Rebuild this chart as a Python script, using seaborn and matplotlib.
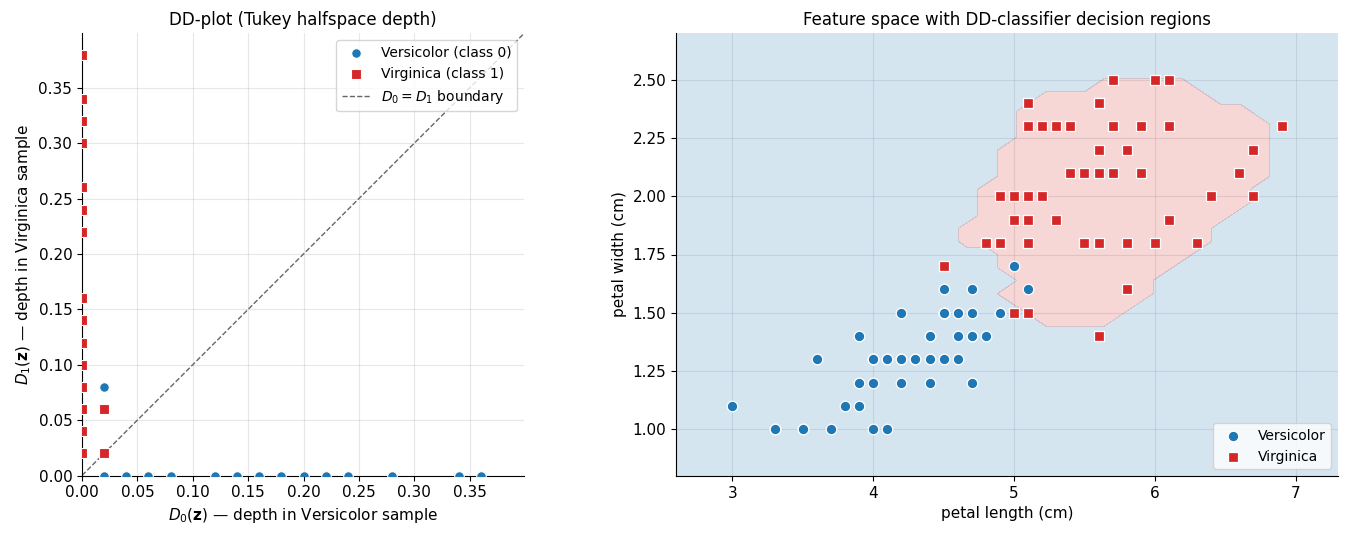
import numpy as np
import pandas as pd
import matplotlib
matplotlib.use("Agg")
import matplotlib.pyplot as plt
import seaborn as sns

# ---------------- data ----------------
versicolor_petal_length = [4.7, 4.5, 4.9, 4.0, 4.6, 4.5, 4.7, 3.3, 4.6, 3.9, 3.5, 4.2, 4.0, 4.7, 3.6, 4.4, 4.5,
                           4.1, 4.5, 3.9, 4.8, 4.0, 4.9, 4.7, 4.3, 4.4, 4.8, 5.0, 4.5, 3.5, 3.8, 3.7, 3.9, 5.1,
                           4.5, 4.5, 4.7, 4.4, 4.1, 4.0, 4.4, 4.6, 4.0, 3.3, 4.2, 4.2, 4.2, 4.3, 3.0, 4.1]
versicolor_petal_width = [1.4, 1.5, 1.5, 1.3, 1.5, 1.3, 1.6, 1.0, 1.3, 1.4, 1.0, 1.5, 1.0, 1.4, 1.3, 1.4, 1.5,
                          1.0, 1.5, 1.1, 1.8, 1.3, 1.5, 1.2, 1.3, 1.4, 1.4, 1.7, 1.5, 1.0, 1.1, 1.0, 1.2, 1.6,
                          1.5, 1.6, 1.5, 1.3, 1.3, 1.3, 1.2, 1.4, 1.2, 1.0, 1.3, 1.2, 1.3, 1.3, 1.1, 1.3]
virginica_petal_length = [6.0, 5.1, 5.9, 5.6, 5.8, 6.6, 4.5, 6.3, 5.8, 6.1, 5.1, 5.3, 5.5, 5.0, 5.1, 5.3, 5.5,
                          6.7, 6.9, 5.0, 5.7, 4.9, 6.7, 4.9, 5.7, 6.0, 4.8, 4.9, 5.6, 5.8, 6.1, 6.4, 5.6, 5.1,
                          5.6, 6.1, 5.6, 5.5, 4.8, 5.4, 5.6, 5.1, 5.1, 5.9, 5.7, 5.2, 5.0, 5.2, 5.4, 5.1]
virginica_petal_width = [2.5, 1.9, 2.1, 1.8, 2.2, 2.1, 1.7, 1.8, 1.8, 2.5, 2.0, 1.9, 2.1, 2.0, 2.4, 2.3, 1.8,
                         2.2, 2.3, 1.5, 2.3, 2.0, 2.0, 1.8, 2.1, 1.8, 1.8, 1.8, 2.1, 1.6, 1.9, 2.0, 2.2, 1.5,
                         1.4, 2.3, 2.4, 1.8, 1.8, 2.1, 2.4, 2.3, 1.9, 2.3, 2.5, 2.3, 1.9, 2.0, 2.3, 1.8]

# DD-plot values (depth of each training point in both samples)
dd_versicolor_D0 = [0.02, 0.04, 0.06, 0.08, 0.12, 0.14, 0.16, 0.18, 0.20, 0.22, 0.24, 0.28, 0.34, 0.36, 0.02]
dd_versicolor_D1 = [0.00, 0.00, 0.00, 0.00, 0.00, 0.00, 0.00, 0.00, 0.00, 0.00, 0.00, 0.00, 0.00, 0.00, 0.08]
dd_virginica_D0 = [0.00] * 15 + [0.02, 0.02]
dd_virginica_D1 = [0.02, 0.04, 0.06, 0.08, 0.10, 0.12, 0.14, 0.16, 0.22, 0.24, 0.26, 0.30, 0.32, 0.34, 0.38,
                   0.06, 0.02]

BLUE = "#1f77b4"
RED = "#d62728"
GRID_N = 35


def tukey_depth(sample, pts):
    """Exact 2-D Tukey (halfspace) depth of each row of pts w.r.t. sample."""
    sample = np.asarray(sample, float)
    n = len(sample)
    out = np.empty(len(pts))
    for j, z in enumerate(pts):
        d = sample - z
        zero = np.all(np.abs(d) < 1e-12, axis=1)
        dd = d[~zero]
        if len(dd) == 0:
            out[j] = 1.0
            continue
        ang = np.arctan2(dd[:, 1], dd[:, 0])
        crit = np.sort(np.concatenate([ang + np.pi / 2, ang - np.pi / 2]) % (2 * np.pi))
        nxt = np.roll(crit, -1)
        nxt[-1] += 2 * np.pi
        mids = (crit + nxt) / 2
        u = np.stack([np.cos(mids), np.sin(mids)], axis=1)
        counts = (dd @ u.T >= -1e-12).sum(axis=0)
        out[j] = (counts.min() + zero.sum()) / n
    return out


# ---------------- figure ----------------
W, H = 1349, 538
fig = plt.figure(figsize=(W / 100, H / 100), dpi=100)
ax1 = fig.add_axes([82 / W, 62 / H, 442 / W, 443 / H])
ax2 = fig.add_axes([676 / W, 62 / H, 662 / W, 443 / H])

# ---- left: DD-plot ----
df_v = pd.DataFrame({"D0": dd_versicolor_D0, "D1": dd_versicolor_D1})
df_g = pd.DataFrame({"D0": dd_virginica_D0, "D1": dd_virginica_D1})
lim = max(max(dd_versicolor_D0), max(dd_virginica_D1)) * 1.05

ax1.grid(True, color="#b0b0b0", alpha=0.3, linewidth=0.8)
ax1.set_axisbelow(True)
sns.scatterplot(data=df_v, x="D0", y="D1", ax=ax1, color=BLUE, marker="o", s=48,
                edgecolor="white", linewidth=0.8, zorder=3, label="Versicolor (class 0)")
sns.scatterplot(data=df_g, x="D0", y="D1", ax=ax1, color=RED, marker="s", s=46,
                edgecolor="white", linewidth=0.8, zorder=3, label="Virginica (class 1)")
ax1.plot([0, lim], [0, lim], ls="--", color="0.4", lw=1.0, label="$D_0 = D_1$ boundary")
ax1.set_xlim(0, lim)
ax1.set_ylim(0, lim)
ax1.set_aspect("equal")
ax1.set_xlabel(r"$D_0(\mathbf{z})$ — depth in Versicolor sample", fontsize=11)
ax1.set_ylabel(r"$D_1(\mathbf{z})$ — depth in Virginica sample", fontsize=11)
ax1.set_title("DD-plot (Tukey halfspace depth)", fontsize=12)
ax1.tick_params(labelsize=11)
ax1.legend(loc="upper right", fontsize=10)
sns.despine(ax=ax1)

# ---- right: feature space with decision regions ----
vers = np.column_stack([versicolor_petal_length, versicolor_petal_width])
virg = np.column_stack([virginica_petal_length, virginica_petal_width])
allx = np.concatenate([versicolor_petal_length, virginica_petal_length])
ally = np.concatenate([versicolor_petal_width, virginica_petal_width])
gx = np.linspace(allx.min() - 0.4, allx.max() + 0.4, GRID_N)
gy = np.linspace(ally.min() - 0.2, ally.max() + 0.2, GRID_N)
GX, GY = np.meshgrid(gx, gy)
grid_pts = np.column_stack([GX.ravel(), GY.ravel()])
D0 = tukey_depth(vers, grid_pts)
D1 = tukey_depth(virg, grid_pts)
cls = (D1 > D0).astype(float).reshape(GX.shape)

ax2.grid(True, color="#b0b0b0", alpha=0.3, linewidth=0.8)
ax2.set_axisbelow(True)
ax2.contourf(GX, GY, cls, levels=[-0.5, 0.5, 1.5], colors=[BLUE, RED], alpha=0.19, zorder=1)

df_fv = pd.DataFrame({"pl": versicolor_petal_length, "pw": versicolor_petal_width})
df_fg = pd.DataFrame({"pl": virginica_petal_length, "pw": virginica_petal_width})
sns.scatterplot(data=df_fv, x="pl", y="pw", ax=ax2, color=BLUE, marker="o", s=58,
                edgecolor="white", linewidth=0.9, zorder=3, label="Versicolor")
sns.scatterplot(data=df_fg, x="pl", y="pw", ax=ax2, color=RED, marker="s", s=56,
                edgecolor="white", linewidth=0.9, zorder=3, label="Virginica")
ax2.set_xlim(gx[0], gx[-1])
ax2.set_ylim(gy[0], gy[-1])
ax2.set_yticks([1.0, 1.25, 1.5, 1.75, 2.0, 2.25, 2.5])
ax2.set_yticklabels(["1.00", "1.25", "1.50", "1.75", "2.00", "2.25", "2.50"])
ax2.set_xlabel("petal length (cm)", fontsize=11)
ax2.set_ylabel("petal width (cm)", fontsize=11)
ax2.set_title("Feature space with DD-classifier decision regions", fontsize=12)
ax2.tick_params(labelsize=11)
ax2.legend(loc="lower right", fontsize=10)
sns.despine(ax=ax2)

fig.savefig("out.png", dpi=100)
